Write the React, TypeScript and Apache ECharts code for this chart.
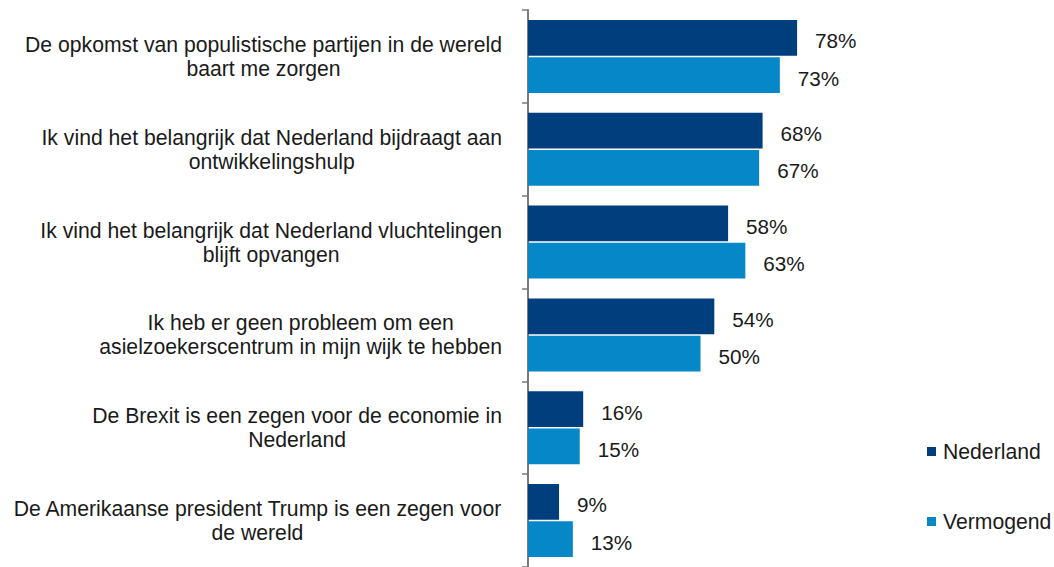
import React, { useEffect, useRef } from "react";
import * as echarts from "echarts";

const categories: string[] = [
  "De opkomst van populistische partijen in de wereld\nbaart me zorgen",
  "Ik vind het belangrijk dat Nederland bijdraagt aan\nontwikkelingshulp",
  "Ik vind het belangrijk dat Nederland vluchtelingen\nblijft opvangen",
  "Ik heb er geen probleem om een\nasielzoekerscentrum in mijn wijk te hebben",
  "De Brexit is een zegen voor de economie in\nNederland",
  "De Amerikaanse president Trump is een zegen voor\nde wereld",
];
const seriesNames: string[] = ["Nederland", "Vermogend"];
const nederland: number[] = [78, 68, 58, 54, 16, 9];
const vermogend: number[] = [73, 67, 63, 50, 15, 13];
const colors: string[] = ["#003E7E", "#0587C8"];

const FONT = "'Liberation Sans', Arial, sans-serif";
const FS = 20.7;
const FS_CAT = 21.2;

export default function App() {
  const ref = useRef<HTMLDivElement>(null);
  useEffect(() => {
    if (!ref.current) return;
    const chart = echarts.init(ref.current, null, { renderer: "svg" });
    const label = {
      show: true,
      position: "right" as const,
      distance: 18,
      offset: [0, 3],
      formatter: "{c}%",
      fontSize: FS,
      fontFamily: FONT,
      color: "#1a1a1a",
    };
    chart.setOption({
      animation: false,
      backgroundColor: "#ffffff",
      textStyle: { fontFamily: FONT },
      grid: { left: 528, top: 10, width: 345, height: 559.5 },
      xAxis: {
        type: "value",
        min: 0,
        max: 100,
        show: false,
        splitLine: { show: false },
      },
      yAxis: {
        type: "category",
        inverse: true,
        data: categories,
        axisLine: { show: true, lineStyle: { color: "#7a7a7a", width: 2 } },
        axisTick: { show: true, length: 6, lineStyle: { color: "#7a7a7a", width: 1.5 } },
        axisLabel: {
          margin: 26,
          fontSize: FS_CAT,
          lineHeight: 24,
          align: "right",
          color: "#1a1a1a",
          fontFamily: FONT,
          formatter: (v: string) =>
            v
              .split("\n")
              .map((l) => `{c|${l}}`)
              .join("\n"),
          rich: {
            c: {
              align: "center",
              fontSize: FS_CAT,
              lineHeight: 24,
              color: "#1a1a1a",
              fontFamily: FONT,
            },
          },
        },
      },
      legend: {
        orient: "vertical",
        left: 922,
        top: 436,
        itemGap: 49,
        itemWidth: 9,
        itemHeight: 9,
        icon: "rect",
        textStyle: { fontSize: FS_CAT, color: "#1a1a1a", fontFamily: FONT, padding: [0, 0, 0, 2] },
        data: seriesNames,
      },
      series: [
        {
          name: seriesNames[0],
          type: "bar",
          data: nederland,
          itemStyle: { color: colors[0] },
          barCategoryGap: "21.4%",
          barGap: "4%",
          label,
        },
        {
          name: seriesNames[1],
          type: "bar",
          data: vermogend,
          itemStyle: { color: colors[1] },
          barCategoryGap: "21.4%",
          barGap: "4%",
          label,
        },
      ],
    });
    return () => chart.dispose();
  }, []);
  return (
    <div
      ref={ref}
      style={{ position: "absolute", left: 0, top: 0, width: 1054, height: 567 }}
    />
  );
}
